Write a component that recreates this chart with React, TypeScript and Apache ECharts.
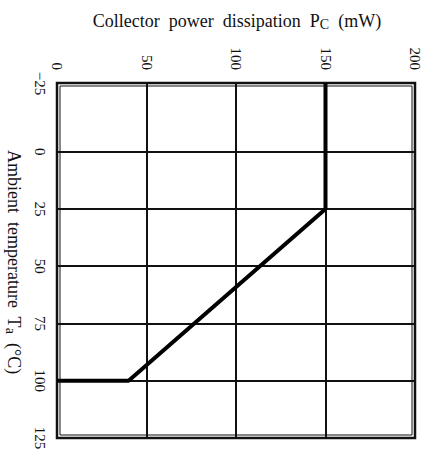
import React, { useEffect, useRef } from "react";
import * as echarts from "echarts";

// Derating curve: collector power dissipation vs. ambient temperature
const powerTicks = [0, 50, 100, 150, 200];
const tempTicks = [-25, 0, 25, 50, 75, 100, 125];
const tempGridLines = [0, 25, 50, 75, 100];
const tempMin = -30;
const curvePower = [150, 150, 40, 0];
const curveTemp = [-30, 25, 100, 100];

const FONT = "'Liberation Serif', 'DejaVu Serif', serif";

export default function App() {
  const ref = useRef<HTMLDivElement>(null);

  useEffect(() => {
    if (!ref.current) return;
    const chart = echarts.init(ref.current, undefined, { renderer: "svg" });
    const curve = curvePower.map((p, i) => [p, curveTemp[i]]);
    const sub = {
      fontSize: 14,
      fontFamily: FONT,
      fill: "#111",
      verticalAlign: "bottom",
      padding: [7, 0, 0, 0],
    };
    chart.setOption({
      animation: false,
      backgroundColor: "#fff",
      grid: {
        left: 57,
        right: 10,
        top: 83,
        bottom: 23,
        show: true,
        borderColor: "#111",
        borderWidth: 2.5,
      },
      xAxis: {
        type: "value",
        position: "top",
        min: powerTicks[0],
        max: powerTicks[powerTicks.length - 1],
        interval: 50,
        axisLine: { show: false },
        axisTick: { show: false },
        splitLine: { show: true, lineStyle: { color: "#111", width: 2 } },
        axisLabel: {
          rotate: -90,
          margin: 13,
          color: "#111",
          fontFamily: FONT,
          fontSize: 15,
        },
      },
      yAxis: {
        type: "value",
        inverse: true,
        min: tempMin,
        max: tempTicks[tempTicks.length - 1],
        axisLine: { show: false },
        axisTick: { show: false, customValues: tempGridLines },
        splitLine: { show: true, lineStyle: { color: "#111", width: 2 } },
        axisLabel: {
          customValues: tempTicks,
          rotate: -90,
          margin: 10,
          color: "#111",
          fontFamily: FONT,
          fontSize: 15,
          formatter: (v: number) =>
            v < 0 ? "{up|\u2212" + Math.abs(v) + "}" : String(v),
          rich: {
            up: { fontFamily: FONT, fontSize: 15, color: "#111", padding: [0, 22, 0, 0] },
          },
        },
      },
      graphic: [
        {
          id: "xTitle",
          type: "text",
          x: 237,
          y: 21,
          style: {
            text: "Collector  power  dissipation  P{s|C}  (mW)",
            fontFamily: FONT,
            fontSize: 18,
            fill: "#111",
            align: "center",
            verticalAlign: "middle",
            rich: { s: sub },
          },
        },
        {
          id: "yTitle",
          type: "text",
          x: 14,
          y: 262,
          rotation: -Math.PI / 2,
          style: {
            text: "Ambient  temperature  T{s|a}  (\u00b0C)",
            fontFamily: FONT,
            fontSize: 18,
            fill: "#111",
            align: "center",
            verticalAlign: "middle",
            rich: { s: sub },
          },
        },
      ],
      series: [
        {
          type: "line",
          data: curve,
          symbol: "none",
          lineStyle: { color: "#000", width: 4 },
        },
      ],
    });

    // thin inner line of the double frame
    const [x0, y0] = chart.convertToPixel({ gridIndex: 0 }, [powerTicks[0], tempMin]);
    const [x1, y1] = chart.convertToPixel(
      { gridIndex: 0 },
      [powerTicks[powerTicks.length - 1], tempTicks[tempTicks.length - 1]]
    );
    chart.setOption({
      graphic: [
        {
          id: "innerFrame",
          type: "rect",
          z: 100,
          silent: true,
          shape: { x: x0 + 3, y: y0 + 3, width: x1 - x0 - 6, height: y1 - y0 - 6 },
          style: { fill: "none", stroke: "#111", lineWidth: 1 },
        },
      ],
    });
    return () => chart.dispose();
  }, []);

  return (
    <div
      ref={ref}
      style={{ position: "fixed", left: 0, top: 0, width: 425, height: 461 }}
    />
  );
}
